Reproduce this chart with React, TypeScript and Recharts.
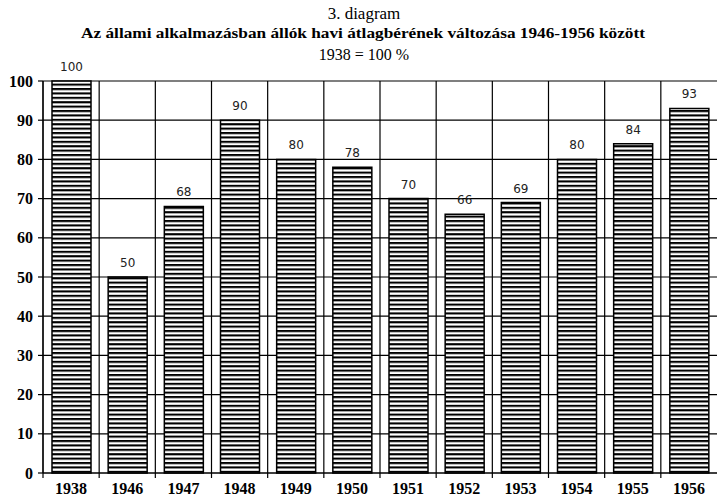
import React from 'react'
import {
  BarChart,
  Bar,
  XAxis,
  YAxis,
  CartesianGrid,
  LabelList,
} from 'recharts'

const years = ['1938', '1946', '1947', '1948', '1949', '1950', '1951', '1952', '1953', '1954', '1955', '1956']
const wageIndex = [100, 50, 68, 90, 80, 78, 70, 66, 69, 80, 84, 93]
const yTicks = [0, 10, 20, 30, 40, 50, 60, 70, 80, 90, 100]

const data = years.map((year, i) => ({ year, value: wageIndex[i] }))

const W = 717
const H = 496
const LEFT = 43
const TOP = 81
const SERIF = '"Liberation Serif", "Times New Roman", serif'

// x tick: label plus a short tick mark on the left category boundary
const YearTick = (props: any) => {
  const { x, y, payload } = props
  const band = (W - LEFT) / years.length
  const bx = x - band / 2
  return (
    <g>
      <line x1={bx} y1={y} x2={bx} y2={y + 5} stroke="#000" strokeWidth={1.2} />
      <text
        x={x}
        y={y + 21}
        textAnchor="middle"
        fontFamily={SERIF}
        fontWeight="bold"
        fontSize={16}
        fill="#000"
      >
        {payload.value}
      </text>
    </g>
  )
}

const App = () => {
  return (
    <div style={{ position: 'absolute', left: 0, top: 0, width: W, height: H, background: '#fff' }}>
      <BarChart
        width={W}
        height={H}
        data={data}
        margin={{ top: TOP, right: 0, left: 0, bottom: 0 }}
      >
        <defs>
          <pattern id="stripes" patternUnits="userSpaceOnUse" width={8} height={4.4}>
            <rect x={0} y={0} width={8} height={4.4} fill="#fff" />
            <rect x={0} y={0} width={8} height={2.1} fill="#000" />
          </pattern>
        </defs>
        <CartesianGrid
          stroke="#000"
          strokeWidth={1.2}
          verticalCoordinatesGenerator={({ offset }: any) =>
            years.map((_, i) => offset.left + (i * offset.width) / years.length)
          }
        />
        <XAxis
          dataKey="year"
          height={H - 473}
          tickSize={0}
          tickMargin={0}
          tickLine={false}
          axisLine={{ stroke: '#000', strokeWidth: 1.2 }}
          tick={<YearTick />}
          interval={0}
        />
        <YAxis
          width={LEFT}
          domain={[0, 100]}
          ticks={yTicks}
          interval={0}
          tickSize={5}
          tickMargin={5}
          axisLine={{ stroke: '#000', strokeWidth: 1.2 }}
          tickLine={{ stroke: '#000', strokeWidth: 1.2 }}
          tick={{ fontFamily: SERIF, fontWeight: 'bold', fontSize: 16, fill: '#000' }}
        />
        <Bar
          dataKey="value"
          barSize={39}
          fill="url(#stripes)"
          stroke="#000"
          strokeWidth={1.5}
          isAnimationActive={false}
        >
          <LabelList
            dataKey="value"
            position="top"
            offset={10}
            fill="#222"
            fontSize={12}
            fontFamily='"DejaVu Sans", sans-serif'
          />
        </Bar>
      </BarChart>
      <svg
        width={W}
        height={TOP - 10}
        style={{ position: 'absolute', left: 0, top: 0, pointerEvents: 'none' }}
      >
        <text x={364} y={19} textAnchor="middle" fontFamily={SERIF} fontSize={17} fill="#000">
          3. diagram
        </text>
        <text
          x={363}
          y={38}
          textAnchor="middle"
          fontFamily={SERIF}
          fontWeight="bold"
          fontSize={15}
          fill="#000"
          textLength={564}
          lengthAdjust="spacingAndGlyphs"
        >
          Az állami alkalmazásban állók havi átlagbérének változása 1946-1956 között
        </text>
        <text x={364} y={60} textAnchor="middle" fontFamily={SERIF} fontSize={16} fill="#000">
          1938 = 100 %
        </text>
      </svg>
    </div>
  )
}

export default App
